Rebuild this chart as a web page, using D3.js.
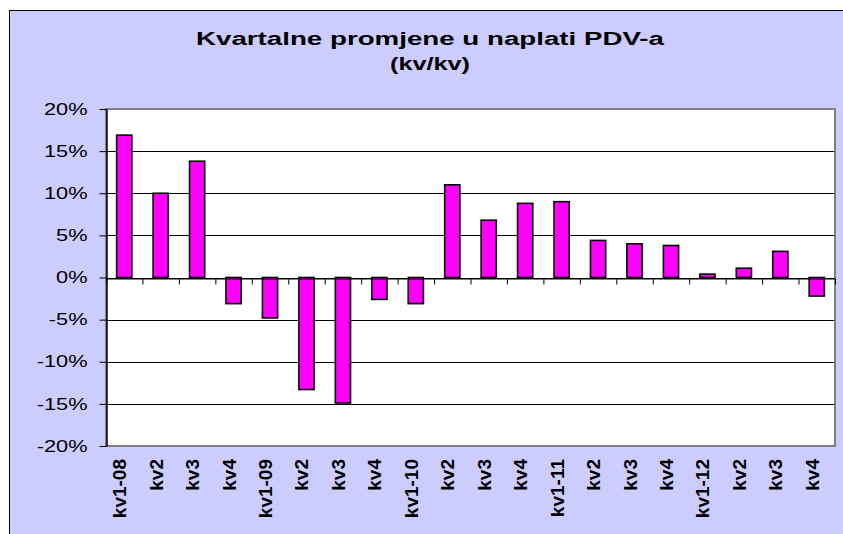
<!DOCTYPE html>
<html>
<head>
<meta charset="utf-8">
<script src="https://cdn.jsdelivr.net/npm/d3@7"></script>
<style>
  body { margin: 0; background: #fff; }
  svg { display: block; font-family: Arial, "Liberation Sans", sans-serif; }
</style>
</head>
<body>
<div id="chart"></div>
<script>
// quarterly VAT collection changes, quarter on quarter (%)
const categories = ["kv1-08", "kv2", "kv3", "kv4", "kv1-09", "kv2", "kv3", "kv4",
   "kv1-10", "kv2", "kv3", "kv4", "kv1-11", "kv2", "kv3", "kv4",
   "kv1-12", "kv2", "kv3", "kv4"];
const values = [16.9, 10.0, 13.8, -3.1, -4.8, -13.3, -14.9, -2.6,
   -3.1, 11.0, 6.8, 8.8, 9.0, 4.4, 4.0, 3.8,
   0.4, 1.1, 3.1, -2.2];
const yTicks = [-20, -15, -10, -5, 0, 5, 10, 15, 20];
const titleLines = ["Kvartalne promjene u naplati PDV-a", "(kv/kv)"];

const W = 843, H = 534;
const plot = {left: 106, top: 109, right: 835, bottom: 446};

const svg = d3.select("#chart").append("svg")
   .attr("width", W)
   .attr("height", H);

svg.append("rect").attr("width", W).attr("height", H).attr("fill", "#fff");

// chart area
svg.append("rect")
   .attr("x", 9.5).attr("y", 10.5)
   .attr("width", 900).attr("height", 600)
   .attr("fill", "#CCCCFF")
   .attr("stroke", "#000");

// stretch text a bit wider, like the original rendering
function stretch(sel, factor) {
   sel.each(function () {
      const w = this.getComputedTextLength();
      d3.select(this).attr("textLength", w * factor).attr("lengthAdjust", "spacingAndGlyphs");
   });
}

// title
const titleWidths = [468, 80];
svg.selectAll(".title")
   .data(titleLines)
   .enter().append("text")
   .attr("class", "title")
   .attr("x", 430)
   .attr("y", (d, i) => 45 + i * 25)
   .attr("text-anchor", "middle")
   .attr("font-size", "18.5px")
   .attr("font-weight", "bold")
   .attr("textLength", (d, i) => titleWidths[i])
   .attr("lengthAdjust", "spacingAndGlyphs")
   .text(d => d);

let y = d3.scaleLinear().domain([-20, 20]).range([plot.bottom, plot.top]);
let x = d3.scaleBand().domain(d3.range(categories.length))
   .range([plot.left, plot.right])
   .paddingInner(1.4 / 2.4)
   .paddingOuter(0.7 / 2.4);
let xi = d3.scaleLinear().domain([0, categories.length]).range([plot.left, plot.right]);

// plot area
svg.append("rect")
   .attr("x", plot.left).attr("y", plot.top)
   .attr("width", plot.right - plot.left)
   .attr("height", plot.bottom - plot.top)
   .attr("fill", "#fff");

// gridlines
svg.append("g")
   .selectAll("line")
   .data(yTicks.filter(t => t > -20 && t < 20))
   .enter().append("line")
   .attr("x1", plot.left).attr("x2", plot.right)
   .attr("y1", d => Math.round(y(d)) + 0.5)
   .attr("y2", d => Math.round(y(d)) + 0.5)
   .attr("stroke", "#000")
   .attr("stroke-width", 1);

// bars
svg.append("g")
   .selectAll("rect")
   .data(values)
   .enter().append("rect")
   .attr("x", (d, i) => x(i))
   .attr("width", x.bandwidth())
   .attr("y", d => y(Math.max(0, d)))
   .attr("height", d => Math.abs(y(d) - y(0)))
   .attr("fill", "#FF00FF")
   .attr("stroke", "#000")
   .attr("stroke-width", 1.6);

// plot border
svg.append("rect")
   .attr("x", plot.left).attr("y", plot.top)
   .attr("width", plot.right - plot.left)
   .attr("height", plot.bottom - plot.top)
   .attr("fill", "none")
   .attr("stroke", "#808080")
   .attr("stroke-width", 2);

// category ticks on zero line
svg.append("g")
   .attr("transform", "translate(0," + (Math.round(y(0)) + 0.5) + ")")
   .call(d3.axisBottom(xi).tickValues(d3.range(0, categories.length + 1)).tickSize(6).tickSizeOuter(0).tickFormat(""))
   .call(g => g.select(".domain").attr("stroke", "#000"))
   .call(g => g.selectAll(".tick line").attr("stroke", "#000"));

// y axis
let yAxis = svg.append("g")
   .attr("transform", "translate(" + (plot.left + 0.5) + ",0)")
   .call(d3.axisLeft(y).tickValues(yTicks).tickSize(7).tickSizeOuter(0).tickPadding(12)
      .tickFormat(d => d + "%"));
yAxis.select(".domain").attr("stroke", "#000").attr("stroke-width", 1.5);
yAxis.selectAll(".tick line").attr("stroke", "#000");
yAxis.selectAll(".tick text")
   .attr("font-size", "16px")
   .attr("font-family", "Arial, 'Liberation Sans', sans-serif")
   .attr("fill", "#000")
   .call(stretch, 1.36);

// category labels
svg.append("g")
   .selectAll("text")
   .data(categories)
   .enter().append("text")
   .attr("transform", (d, i) => "translate(" + (x(i) + x.bandwidth() / 2 + 2) + ",459) rotate(-90)")
   .attr("text-anchor", "end")
   .attr("font-size", "19px")
   .attr("font-weight", "bold")
   .text(d => d);
</script>
</body>
</html>
